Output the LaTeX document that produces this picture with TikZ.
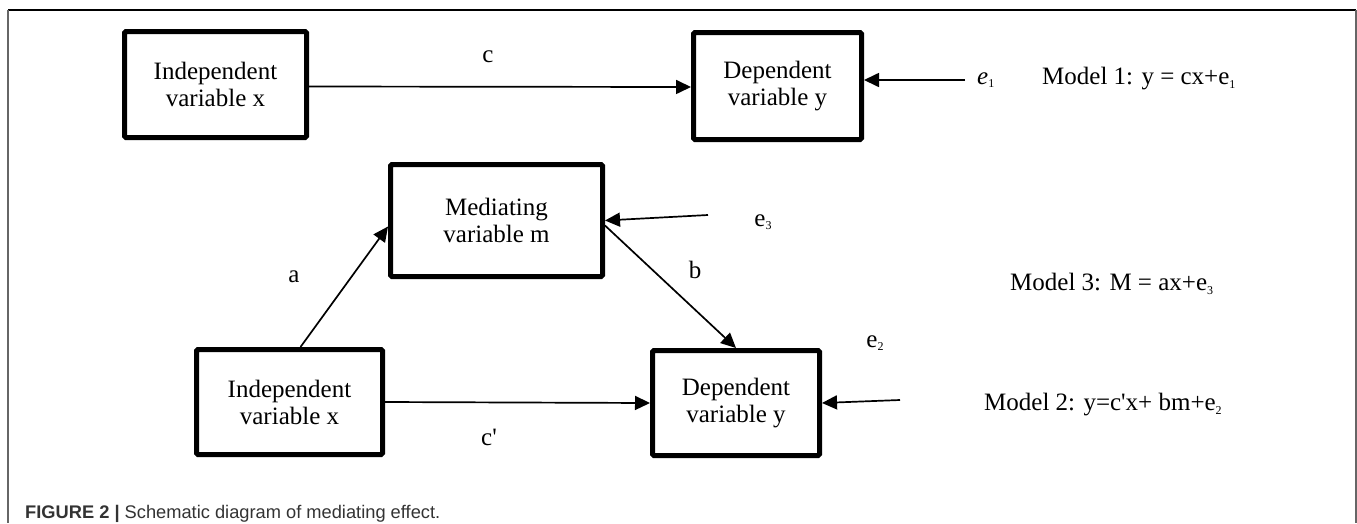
\documentclass[tikz,border=0pt]{standalone}
\usepackage{fontspec}
\setmainfont{Liberation Serif}
\newfontfamily\capfont{Liberation Sans}
\usetikzlibrary{arrows.meta}
\newcommand\lowsub[1]{\raisebox{-3.5pt}{\fontsize{12}{12}\selectfont #1}}
\begin{document}
\begin{tikzpicture}[x=1pt,y=-1pt,
  box/.style={draw, line width=5pt, rounded corners=1.5pt, inner sep=0pt, align=center, font=\fontsize{25}{27}\selectfont},
  arr/.style={line width=1.7pt, -{Triangle[length=15pt,width=14pt]}},
  lbl/.style={inner sep=0pt, font=\fontsize{25}{27}\selectfont}]
\useasboundingbox (0,0) rectangle (1357,523);
% frame
\draw[line width=1.5pt] (8,10) -- (1356,10);
\draw[black!60, line width=2pt] (8,10) -- (8,523);
\draw[black!60, line width=2pt] (1355.5,10) -- (1355.5,523);
% boxes
\node[box, minimum width=182pt, minimum height=106pt] (X1) at (215.5,84.5) {Independent\\variable x};
\node[box, minimum width=168pt, minimum height=107pt] (Y1) at (777.5,86) {Dependent\\variable y};
\node[box, minimum width=212pt, minimum height=112pt] (M) at (496.5,220.5) {Mediating\\variable m};
\node[box, minimum width=186pt, minimum height=105pt] (X2) at (289.5,402) {Independent\\variable x};
\node[box, minimum width=167pt, minimum height=105pt] (Y2) at (736,403) {Dependent\\variable y};
% coordinates of error terms
\coordinate (e1s) at (965,80);
\coordinate (e3s) at (708,215);
\coordinate (e2s) at (900,400);
% connectors
\draw[arr] ([yshift=-2pt]X1.east) -- ([yshift=-1pt]Y1.west);
\draw[arr] (e1s) -- (e1s -| Y1.east);
\draw[arr] (e3s) -- (M.east);
\draw[arr] ([yshift=-5pt]M.east) -- (Y2.north);
\draw[arr] ([xshift=11pt]X2.north) -- ([yshift=-6pt]M.west);
\draw[arr] (X2.east) -- (Y2.west);
\draw[arr] (e2s) -- (Y2.east);
% labels
\node[lbl] (lc) at (488,57) {c};
\node[lbl] (la) at (294,277) {a};
\node[lbl] (lb) at (695,270) {b};
\node[lbl] (lcp) at (489,437) {c\textquotesingle};
\node[lbl, anchor=west] (le1) at (977,80) {\textit{e}\lowsub{1}};
\node[lbl] (le3) at (763,222) {e\lowsub{3}};
\node[lbl] (le2) at (875,343) {e\lowsub{2}};
\node[lbl, anchor=west] (m1) at (1042,79) {Model 1: y = cx+e\lowsub{1}};
\node[lbl, anchor=west] (m3) at (1010,284) {Model 3: M = ax+e\lowsub{3}};
\node[lbl, anchor=west] (m2) at (984,405) {Model 2: y=c\textquotesingle x+ bm+e\lowsub{2}};
% caption
\node[anchor=base west, inner sep=0pt, text=black!80] (cap) at (25,518) {\resizebox{415pt}{!}{\capfont\fontsize{20}{22}\selectfont\textbf{FIGURE 2 |} Schematic diagram of mediating effect.}};
\end{tikzpicture}
\end{document}
